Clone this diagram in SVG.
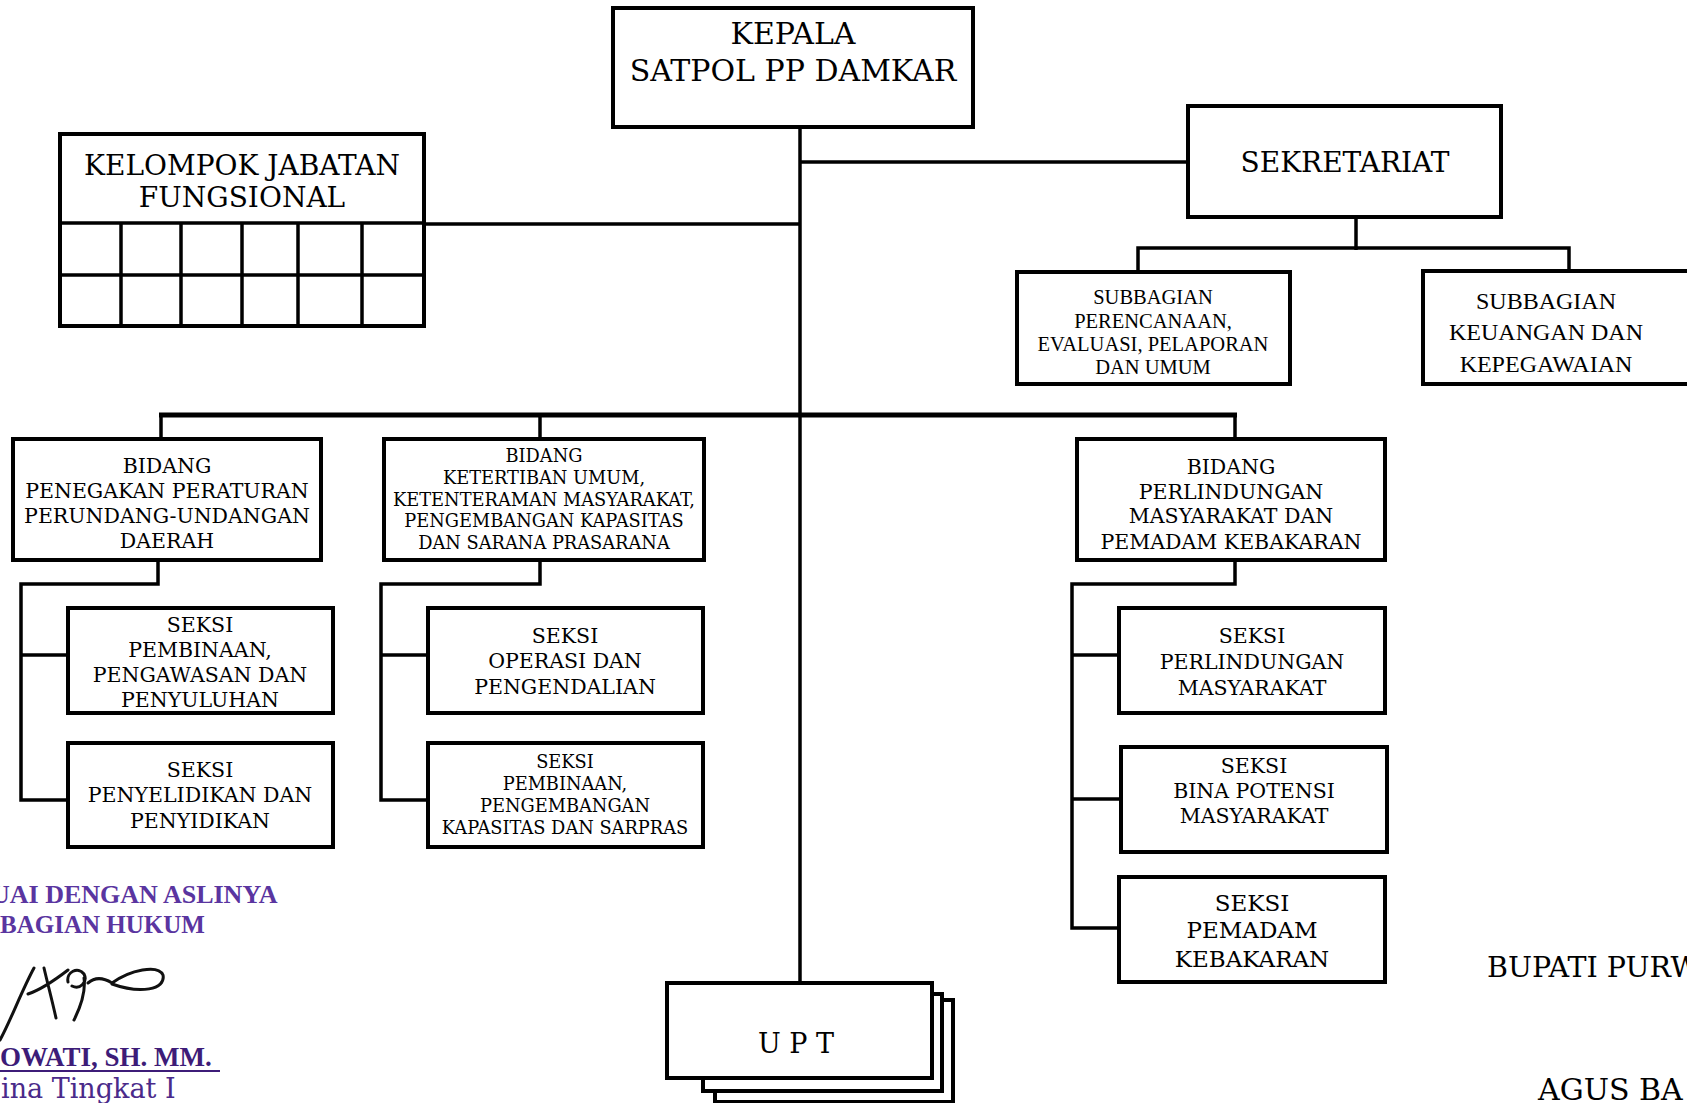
<svg xmlns="http://www.w3.org/2000/svg" width="1687" height="1103" viewBox="0 0 1687 1103">
<style>
.box{fill:#fff;stroke:#000;stroke-width:4}
.ln{fill:none;stroke:#000;stroke-width:3.5}
.bus{fill:none;stroke:#000;stroke-width:5}
.t{font-family:"DejaVu Serif",serif;text-anchor:middle;fill:#000}
.s{font-family:"Liberation Serif",serif;text-anchor:middle;fill:#000}
.p{font-family:"Liberation Serif",serif;fill:#5a35a0}
</style>
<rect width="1687" height="1103" fill="#fff"/>
<g id="connectors">
<line class="ln" x1="800" y1="126" x2="800" y2="982"/>
<line class="ln" x1="800" y1="162" x2="1188" y2="162"/>
<line class="ln" x1="424" y1="224" x2="800" y2="224"/>
<line class="ln" x1="1356" y1="217" x2="1356" y2="250"/>
<polyline class="ln" points="1138,272 1138,248 1569,248 1569,271"/>
<line class="bus" x1="159" y1="415" x2="1237" y2="415"/>
<line class="ln" x1="161" y1="415" x2="161" y2="439"/>
<line class="ln" x1="540" y1="415" x2="540" y2="439"/>
<line class="ln" x1="1235" y1="415" x2="1235" y2="439"/>
<polyline class="ln" points="158,560 158,584 21,584 21,800 68,800"/>
<line class="ln" x1="21" y1="655" x2="68" y2="655"/>
<polyline class="ln" points="540,560 540,584 381,584 381,800 428,800"/>
<line class="ln" x1="381" y1="655" x2="428" y2="655"/>
<polyline class="ln" points="1235,560 1235,584 1072,584 1072,928 1119,928"/>
<line class="ln" x1="1072" y1="655" x2="1119" y2="655"/>
<line class="ln" x1="1072" y1="799" x2="1121" y2="799"/>
</g>
<g id="kepala">
<rect class="box" x="613" y="8" width="360" height="119"/>
<text class="t" font-size="30" x="793" y="44">KEPALA</text>
<text class="t" font-size="30" x="793" y="81">SATPOL PP DAMKAR</text>
</g>
<g id="sekretariat">
<rect class="box" x="1188" y="106" width="313" height="111"/>
<text class="t" font-size="28" x="1345" y="172">SEKRETARIAT</text>
</g>
<g id="kelompok">
<rect class="box" x="60" y="134" width="364" height="192"/>
<line class="ln" x1="60" y1="223" x2="424" y2="223"/>
<line class="ln" x1="60" y1="275" x2="424" y2="275"/>
<line class="ln" x1="121" y1="223" x2="121" y2="326"/>
<line class="ln" x1="181" y1="223" x2="181" y2="326"/>
<line class="ln" x1="242" y1="223" x2="242" y2="326"/>
<line class="ln" x1="298" y1="223" x2="298" y2="326"/>
<line class="ln" x1="362" y1="223" x2="362" y2="326"/>
<text class="t" font-size="28" x="242" y="175">KELOMPOK JABATAN</text>
<text class="t" font-size="28" x="242" y="207">FUNGSIONAL</text>
</g>
<g id="subbagian-perencanaan">
<rect class="box" x="1017" y="272" width="273" height="112"/>
<text class="s" font-size="20.5" x="1153" y="304">SUBBAGIAN</text>
<text class="s" font-size="20.5" x="1153" y="328">PERENCANAAN,</text>
<text class="s" font-size="20.5" x="1153" y="351">EVALUASI, PELAPORAN</text>
<text class="s" font-size="20.5" x="1153" y="374">DAN UMUM</text>
</g>
<g id="subbagian-keuangan">
<rect class="box" x="1423" y="271" width="280" height="113"/>
<text class="s" font-size="24" x="1546" y="309">SUBBAGIAN</text>
<text class="s" font-size="24" x="1546" y="340">KEUANGAN DAN</text>
<text class="s" font-size="24" x="1546" y="372">KEPEGAWAIAN</text>
</g>
<g id="bidang-penegakan">
<rect class="box" x="13" y="439" width="308" height="121"/>
<text class="t" font-size="20.5" x="167" y="473">BIDANG</text>
<text class="t" font-size="20.5" x="167" y="498">PENEGAKAN PERATURAN</text>
<text class="t" font-size="20.5" x="167" y="523">PERUNDANG-UNDANGAN</text>
<text class="t" font-size="20.5" x="167" y="548">DAERAH</text>
</g>
<g id="bidang-ketertiban">
<rect class="box" x="384" y="439" width="320" height="121"/>
<text class="t" font-size="17.8" x="544" y="462">BIDANG</text>
<text class="t" font-size="17.8" x="544" y="484">KETERTIBAN UMUM,</text>
<text class="t" font-size="17.8" x="544" y="506">KETENTERAMAN MASYARAKAT,</text>
<text class="t" font-size="17.8" x="544" y="527">PENGEMBANGAN KAPASITAS</text>
<text class="t" font-size="17.8" x="544" y="549">DAN SARANA PRASARANA</text>
</g>
<g id="bidang-perlindungan">
<rect class="box" x="1077" y="439" width="308" height="121"/>
<text class="t" font-size="20.5" x="1231" y="474">BIDANG</text>
<text class="t" font-size="20.5" x="1231" y="499">PERLINDUNGAN</text>
<text class="t" font-size="20.5" x="1231" y="523">MASYARAKAT DAN</text>
<text class="t" font-size="20.5" x="1231" y="549">PEMADAM KEBAKARAN</text>
</g>
<g id="seksi-pembinaan-pengawasan">
<rect class="box" x="68" y="608" width="265" height="105"/>
<text class="t" font-size="20.5" x="200" y="632">SEKSI</text>
<text class="t" font-size="20.5" x="200" y="657">PEMBINAAN,</text>
<text class="t" font-size="20.5" x="200" y="682">PENGAWASAN DAN</text>
<text class="t" font-size="20.5" x="200" y="707">PENYULUHAN</text>
</g>
<g id="seksi-penyelidikan">
<rect class="box" x="68" y="743" width="265" height="104"/>
<text class="t" font-size="20.5" x="200" y="777">SEKSI</text>
<text class="t" font-size="20.5" x="200" y="802">PENYELIDIKAN DAN</text>
<text class="t" font-size="20.5" x="200" y="828">PENYIDIKAN</text>
</g>
<g id="seksi-operasi">
<rect class="box" x="428" y="608" width="275" height="105"/>
<text class="t" font-size="20.5" x="565" y="643">SEKSI</text>
<text class="t" font-size="20.5" x="565" y="668">OPERASI DAN</text>
<text class="t" font-size="20.5" x="565" y="694">PENGENDALIAN</text>
</g>
<g id="seksi-pembinaan-pengembangan">
<rect class="box" x="428" y="743" width="275" height="104"/>
<text class="t" font-size="17.8" x="565" y="768">SEKSI</text>
<text class="t" font-size="17.8" x="565" y="790">PEMBINAAN,</text>
<text class="t" font-size="17.8" x="565" y="812">PENGEMBANGAN</text>
<text class="t" font-size="17.8" x="565" y="834">KAPASITAS DAN SARPRAS</text>
</g>
<g id="seksi-perlindungan">
<rect class="box" x="1119" y="608" width="266" height="105"/>
<text class="t" font-size="20.5" x="1252" y="643">SEKSI</text>
<text class="t" font-size="20.5" x="1252" y="669">PERLINDUNGAN</text>
<text class="t" font-size="20.5" x="1252" y="695">MASYARAKAT</text>
</g>
<g id="seksi-bina-potensi">
<rect class="box" x="1121" y="747" width="266" height="105"/>
<text class="t" font-size="20.5" x="1254" y="773">SEKSI</text>
<text class="t" font-size="20.5" x="1254" y="798">BINA POTENSI</text>
<text class="t" font-size="20.5" x="1254" y="823">MASYARAKAT</text>
</g>
<g id="seksi-pemadam">
<rect class="box" x="1119" y="877" width="266" height="105"/>
<text class="t" font-size="23" x="1252" y="911">SEKSI</text>
<text class="t" font-size="23" x="1252" y="938">PEMADAM</text>
<text class="t" font-size="23" x="1252" y="967">KEBAKARAN</text>
</g>
<g id="upt">
<rect class="box" x="715" y="1000" width="238" height="102"/>
<rect class="box" x="703" y="994" width="239" height="97"/>
<rect class="box" x="667" y="983" width="265" height="95"/>
<text class="t" font-size="27" x="796" y="1053">U P T</text>
</g>
<g id="pengesahan">
<text class="p" font-size="26" font-weight="bold" x="-9" y="903">UAI DENGAN ASLINYA</text>
<text class="p" font-size="25" font-weight="bold" x="0" y="933">BAGIAN HUKUM</text>
<path d="M0,1040 C10,1022 22,990 34,968 M28,994 C40,990 55,980 68,970 M44,968 C48,985 52,1000 56,1018 M68,982 C66,972 78,966 84,974 C88,982 80,990 72,986 M84,978 C86,992 80,1008 74,1020 M88,983 C96,976 104,978 112,983 C130,970 158,964 163,975 C166,990 140,994 112,984" fill="none" stroke="#111" stroke-width="3" stroke-linecap="round"/>
<text class="p" font-size="27" font-weight="bold" x="0" y="1066" style="fill:#3d1c78">OWATI, SH. MM.</text>
<line x1="0" y1="1071" x2="220" y2="1071" stroke="#3d1c78" stroke-width="2"/>
<text font-family="DejaVu Serif, serif" font-size="27" x="1" y="1098" fill="#4a2a8a">ina Tingkat I</text>
<text class="t" font-size="28.5" x="1487" y="977" style="text-anchor:start">BUPATI PURW</text>
<text class="t" font-size="30" x="1538" y="1100" style="text-anchor:start">AGUS BA</text>
</g>
</svg>
